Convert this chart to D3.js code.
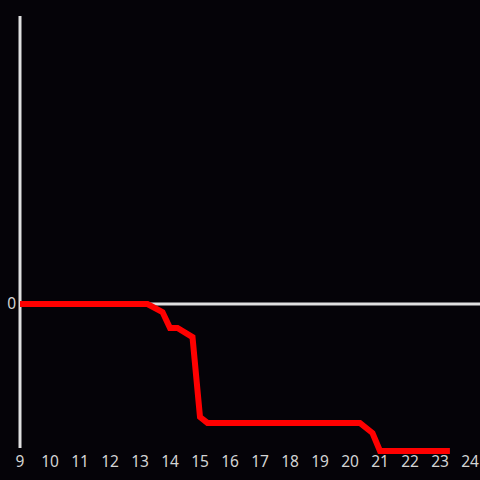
<!DOCTYPE html>
<html><head><meta charset="utf-8">
<script src="https://cdn.jsdelivr.net/npm/d3@7"></script>
<style>html,body{margin:0;padding:0;background:#050308;}</style>
</head><body>
<svg id="c" width="480" height="480"></svg>
<script>
const xTicks = [9,10,11,12,13,14,15,16,17,18,19,20,21,22,23,24];
const yTicks = [0];
const times = [9, 13.25, 13.75, 14, 14.25, 14.75, 15, 15.25, 20.33, 20.75, 21, 23.33];
const values = [0, 0, -5.6, -16.7, -16.7, -23, -78.5, -82.6, -82.6, -89.6, -102, -102];

const svg = d3.select("#c");
svg.append("rect").attr("width",480).attr("height",480).attr("fill","#050308");
const x = d3.scaleLinear().domain([9,24]).range([20,470]);
const y = d3.scaleLinear().domain([-100,200]).range([448,16]);

svg.append("line").attr("x1",x(9)).attr("x2",x(9)).attr("y1",y(200)).attr("y2",y(-100))
  .attr("stroke","#e0e0e0").attr("stroke-width",3);
svg.append("line").attr("x1",x(9)).attr("x2",480).attr("y1",y(0)).attr("y2",y(0))
  .attr("stroke","#e0e0e0").attr("stroke-width",3);

svg.selectAll("text.xt").data(xTicks).enter().append("text").attr("class","xt")
  .attr("x",d=>x(d)).attr("y",467).attr("text-anchor","middle")
  .attr("font-family","Noto Sans, sans-serif").attr("font-size",15.5).attr("fill","#d4d4d4")
  .text(d=>d);
svg.selectAll("text.yt").data(yTicks).enter().append("text").attr("class","yt")
  .attr("x",16).attr("y",d=>y(d)).attr("dy","0.35em").attr("text-anchor","end")
  .attr("font-family","Noto Sans, sans-serif").attr("font-size",15.5).attr("fill","#d4d4d4")
  .text(d=>d);

const data = times.map((t,i)=>[t,values[i]]);
svg.append("path").datum(data)
  .attr("d", d3.line().x(d=>x(d[0])).y(d=>y(d[1])))
  .attr("fill","none").attr("stroke","#ff0000").attr("stroke-width",6)
  .attr("stroke-linejoin","miter");
</script>
</body></html>
